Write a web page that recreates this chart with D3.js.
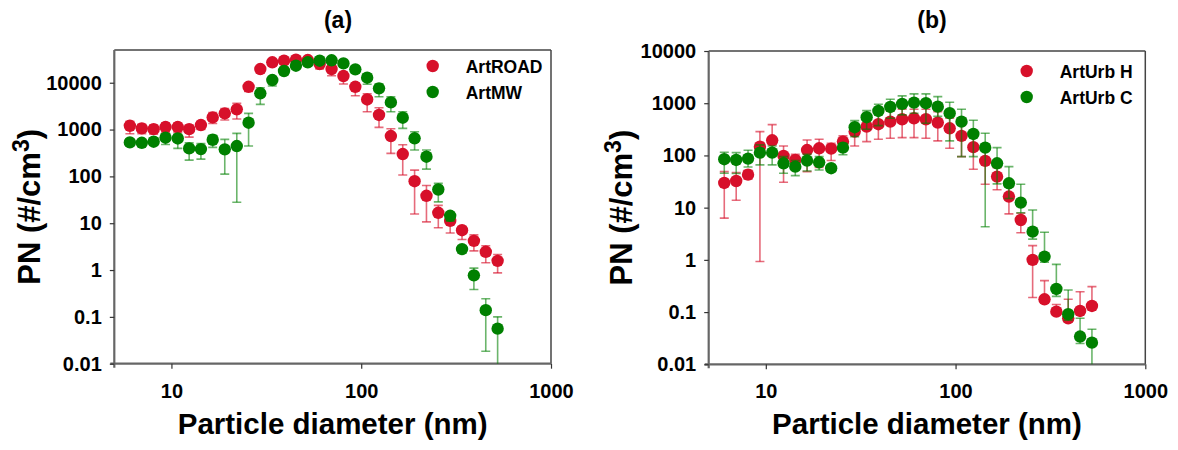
<!DOCTYPE html>
<html><head><meta charset="utf-8">
<script src="https://cdn.jsdelivr.net/npm/d3@7"></script>
<style>
html,body{margin:0;padding:0;background:#fff;}
svg{display:block;font-family:"Liberation Sans",Arial,sans-serif;}
</style></head>
<body>
<svg id="chart" width="1178" height="450"></svg>
<script>
// ---------- data ----------
const diameters = [6.04, 6.98, 8.06, 9.31, 10.8, 12.4, 14.3, 16.5, 19.1, 22.1, 25.5, 29.4, 34.0, 39.2, 45.3, 52.3,
  60.4, 69.8, 80.6, 93.1, 107.5, 124.1, 143.3, 165.5, 191.1, 220.7, 254.8, 294.3, 339.8, 392.4, 453.2, 523.3];

// Panel (a)
const artRoadValues = [1205, 1060, 1020, 1130, 1130, 1020, 1250, 1820, 2220, 2700, 8200, 19600, 27300, 29500, 31000, 30500,
  25100, 19600, 13900, 8200, 4400, 2050, 726, 300, 79, 38.5, 16.7, 11.2, 7.1, 4.2, 2.45, 1.57];
const artRoadLow = [813, 820, 800, 880, 880, 690, 1000, 1350, 1600, 1675, 6500, 16000, 23000, 25000, 26000, 25000,
  19600, 14100, 9400, 5270, 2400, 1115, 310, 107, 15.7, 10.7, 8, 6.2, 4.5, 2.57, 1.43, 0.87];
const artRoadHigh = [1500, 1300, 1250, 1400, 1400, 1250, 1500, 2300, 2800, 3630, 9500, 22000, 31000, 33000, 34000, 34000,
  29000, 23000, 17000, 10000, 5820, 2930, 1040, 473, 136, 64, 24, 14, 8.5, 5.65, 3.29, 2.15];

const artMwValues = [532, 522, 550, 669, 646, 396, 383, 606, 378, 444, 1400, 5940, 11400, 17800, 23100, 27300,
  29500, 30100, 25900, 19300, 12800, 7590, 3800, 1790, 650, 263, 52.5, 14.4, 2.8, 0.77, 0.139, 0.056];
const artMwLow = [450, 440, 470, 480, 396, 223, 234, 417, 112, 28, 446, 3450, 8500, 15000, 20000, 24000,
  26000, 27000, 22000, 16000, 9250, 5030, 2400, 1060, 365, 143, 28.6, 11, 2.3, 0.385, 0.0185, 0.005];
const artMwHigh = [620, 600, 640, 800, 800, 520, 500, 750, 616, 830, 2220, 7820, 13500, 20500, 26000, 30500,
  33000, 33500, 29500, 22500, 15500, 9500, 5000, 2400, 898, 365, 71, 17, 3.3, 1.1, 0.243, 0.1];

// Panel (b)
const artUrbHValues = [29.7, 32.4, 42.9, 147, 195, 97.7, 82, 127, 137, 135, 184, 286, 356, 396, 444, 493,
  515, 493, 425, 331, 237, 144, 78.5, 39.3, 16.3, 5.8, 1.0, 0.176, 0.102, 0.076, 0.105, 0.131];
const artUrbHLow = [6.3, 13.9, 35, 0.93, 160, 30.7, 60, 49, 59, 80, 150, 152, 184, 204, 214, 219,
  219, 214, 190, 137, 95, 54.5, 28, 22, 7.6, 3.3, 0.19, 0.15, 0.09, 0.065, 0.09, 0.11];
const artUrbHHigh = [49, 46.8, 52, 286, 389, 152, 105, 198, 204, 171, 237, 330, 560, 650, 711, 767,
  767, 767, 690, 515, 380, 250, 130, 58, 25, 7.8, 1.87, 0.4, 0.14, 0.176, 0.245, 0.307];

const artUrbCValues = [84.6, 82, 87, 113, 113, 70.8, 61, 79.5, 74, 57, 141, 347, 540, 711, 849, 970,
  1027, 1000, 860, 643, 444, 258, 141, 70.8, 29.3, 12.5, 3.47, 1.15, 0.277, 0.091, 0.034, 0.026];
const artUrbCLow = [45.6, 45, 60, 66, 66, 45.6, 41, 50.5, 52.6, 50, 103, 229, 317, 373, 517, 597,
  643, 414, 560, 190, 95, 95, 4.3, 28.5, 15, 8, 2.5, 0.9, 0.2, 0.07, 0.025, 0.004];
const artUrbCHigh = [115, 113, 126, 159, 152, 95, 80, 105, 95, 66, 170, 464, 721, 957, 1194, 1380,
  1507, 1507, 1340, 1046, 767, 472, 266, 141, 61, 28, 9.0, 3.38, 0.82, 0.265, 0.076, 0.047];

const xTickValues = [10, 100, 1000];
const xTickLabels = ["10", "100", "1000"];
const yTickValuesA = [0.01, 0.1, 1, 10, 100, 1000, 10000];
const yTickLabelsA = ["0.01", "0.1", "1", "10", "100", "1000", "10000"];
const yTickValuesB = [0.01, 0.1, 1, 10, 100, 1000, 10000];
const yTickLabelsB = ["0.01", "0.1", "1", "10", "100", "1000", "10000"];

const panelTitles = ["(a)", "(b)"];
const xAxisTitle = "Particle diameter (nm)";
const legendA = ["ArtROAD", "ArtMW"];
const legendB = ["ArtUrb H", "ArtUrb C"];

// ---------- styling ----------
const RED = "#d7102a", GREEN = "#008000";
const RED_BAR = "rgba(215,16,42,0.62)", GREEN_BAR = "rgba(0,128,0,0.58)";

const svg = d3.select("#chart");

function drawPanel(cfg, idx) {
  const x = d3.scaleLog().domain([5, 1000]).range([cfg.left, cfg.right]);
  const y = d3.scaleLog().domain(cfg.yDomain).range([cfg.bottom, cfg.top]);
  const g = svg.append("g");

  const clipId = "clip" + idx;
  g.append("clipPath").attr("id", clipId).append("rect")
    .attr("x", cfg.left).attr("y", cfg.top)
    .attr("width", cfg.right - cfg.left).attr("height", cfg.bottom - cfg.top);

  // frame top/right
  g.append("line").attr("x1", cfg.left).attr("x2", cfg.right).attr("y1", cfg.top).attr("y2", cfg.top)
    .attr("stroke", "#444").attr("stroke-width", 1.5);
  g.append("line").attr("x1", cfg.right).attr("x2", cfg.right).attr("y1", cfg.top).attr("y2", cfg.bottom)
    .attr("stroke", "#444").attr("stroke-width", 1.5);

  // axes
  const xAxis = d3.axisBottom(x).tickValues(xTickValues).tickFormat((d, i) => xTickLabels[i])
    .tickSizeInner(5).tickSizeOuter(0).tickPadding(15);
  const gx = g.append("g").attr("transform", `translate(0,${cfg.bottom})`).call(xAxis);
  gx.select(".domain").attr("stroke", "#666").attr("stroke-width", 2.2)
    .attr("d", `M${cfg.left - 4},0H${cfg.right}`);
  gx.selectAll(".tick line").attr("stroke", "#333").attr("stroke-width", 1.2);
  gx.selectAll(".tick text").attr("font-size", 20).attr("font-weight", "bold").attr("fill", "#000")
    .attr("font-family", "Liberation Sans, Arial, sans-serif");

  const yAxis = d3.axisLeft(y).tickValues(cfg.yTicks).tickFormat((d, i) => cfg.yLabels[i])
    .tickSizeInner(4.5).tickSizeOuter(0).tickPadding(8);
  const gy = g.append("g").attr("transform", `translate(${cfg.left},0)`).call(yAxis);
  gy.select(".domain").attr("stroke", "#666").attr("stroke-width", 2.2)
    .attr("d", `M0,${cfg.top}V${cfg.bottom + 4}`);
  gy.selectAll(".tick line").attr("stroke", "#333").attr("stroke-width", 1.2);
  gy.selectAll(".tick text").attr("font-size", 20).attr("font-weight", "bold").attr("fill", "#000")
    .attr("font-family", "Liberation Sans, Arial, sans-serif");

  // axis titles
  g.append("text").attr("x", (cfg.left + cfg.right) / 2).attr("y", 434)
    .attr("text-anchor", "middle").attr("font-size", 29.5).attr("font-weight", "bold")
    .text(xAxisTitle);
  const yt = g.append("text")
    .attr("transform", `translate(${cfg.yTitleX},${(cfg.top + cfg.bottom) / 2}) rotate(-90)`)
    .attr("text-anchor", "middle").attr("font-size", 31).attr("font-weight", "bold");
  yt.append("tspan").text("PN (#/cm");
  yt.append("tspan").attr("font-size", 23).attr("dy", -11).text("3");
  yt.append("tspan").attr("dy", 11).text(")");

  // panel title
  g.append("text").attr("x", cfg.titleX).attr("y", 28).attr("text-anchor", "middle")
    .attr("font-size", 23).attr("font-weight", "bold").text(panelTitles[idx]);

  // series
  const plot = g.append("g").attr("clip-path", `url(#${clipId})`);
  const capW = 4.5;
  cfg.series.forEach(s => {
    const data = diameters.map((d, i) => ({ d, v: s.values[i], lo: s.low[i], hi: s.high[i] }));
    const bars = plot.append("g");
    const lo = d => Math.max(d.lo, 1e-4);
    bars.selectAll("line.v").data(data).join("line")
      .attr("x1", d => x(d.d)).attr("x2", d => x(d.d))
      .attr("y1", d => y(lo(d))).attr("y2", d => y(d.hi))
      .attr("stroke", s.bar).attr("stroke-width", 1.6);
    bars.selectAll("line.lo").data(data).join("line")
      .attr("x1", d => x(d.d) - capW).attr("x2", d => x(d.d) + capW)
      .attr("y1", d => y(lo(d))).attr("y2", d => y(lo(d)))
      .attr("stroke", s.bar).attr("stroke-width", 1.6);
    bars.selectAll("line.hi").data(data).join("line")
      .attr("x1", d => x(d.d) - capW).attr("x2", d => x(d.d) + capW)
      .attr("y1", d => y(d.hi)).attr("y2", d => y(d.hi))
      .attr("stroke", s.bar).attr("stroke-width", 1.6);
    plot.append("g").selectAll("circle").data(data).join("circle")
      .attr("cx", d => x(d.d)).attr("cy", d => y(d.v)).attr("r", 6.2)
      .attr("fill", s.color);
  });

  // legend
  cfg.legend.forEach((name, i) => {
    const ly = cfg.legendY + i * 26;
    g.append("circle").attr("cx", cfg.legendX).attr("cy", ly).attr("r", 6.2)
      .attr("fill", i === 0 ? RED : GREEN);
    g.append("text").attr("x", cfg.legendX + 33).attr("y", ly + 6.5)
      .attr("font-size", 17.5).attr("font-weight", "bold").text(name);
  });
}

drawPanel({
  left: 114.3, right: 551, top: 50, bottom: 363.7, yDomain: [0.01, 50000],
  yTicks: yTickValuesA, yLabels: yTickLabelsA, yTitleX: 40, titleX: 338,
  legend: legendA, legendX: 432.7, legendY: 66,
  series: [
    { values: artRoadValues, low: artRoadLow, high: artRoadHigh, color: RED, bar: RED_BAR },
    { values: artMwValues, low: artMwLow, high: artMwHigh, color: GREEN, bar: GREEN_BAR }
  ]
}, 0);

drawPanel({
  left: 708.7, right: 1145.3, top: 51, bottom: 364.3, yDomain: [0.01, 10000],
  yTicks: yTickValuesB, yLabels: yTickLabelsB, yTitleX: 632, titleX: 932,
  legend: legendB, legendX: 1026.7, legendY: 71,
  series: [
    { values: artUrbHValues, low: artUrbHLow, high: artUrbHHigh, color: RED, bar: RED_BAR },
    { values: artUrbCValues, low: artUrbCLow, high: artUrbCHigh, color: GREEN, bar: GREEN_BAR }
  ]
}, 1);
</script>
</body></html>
